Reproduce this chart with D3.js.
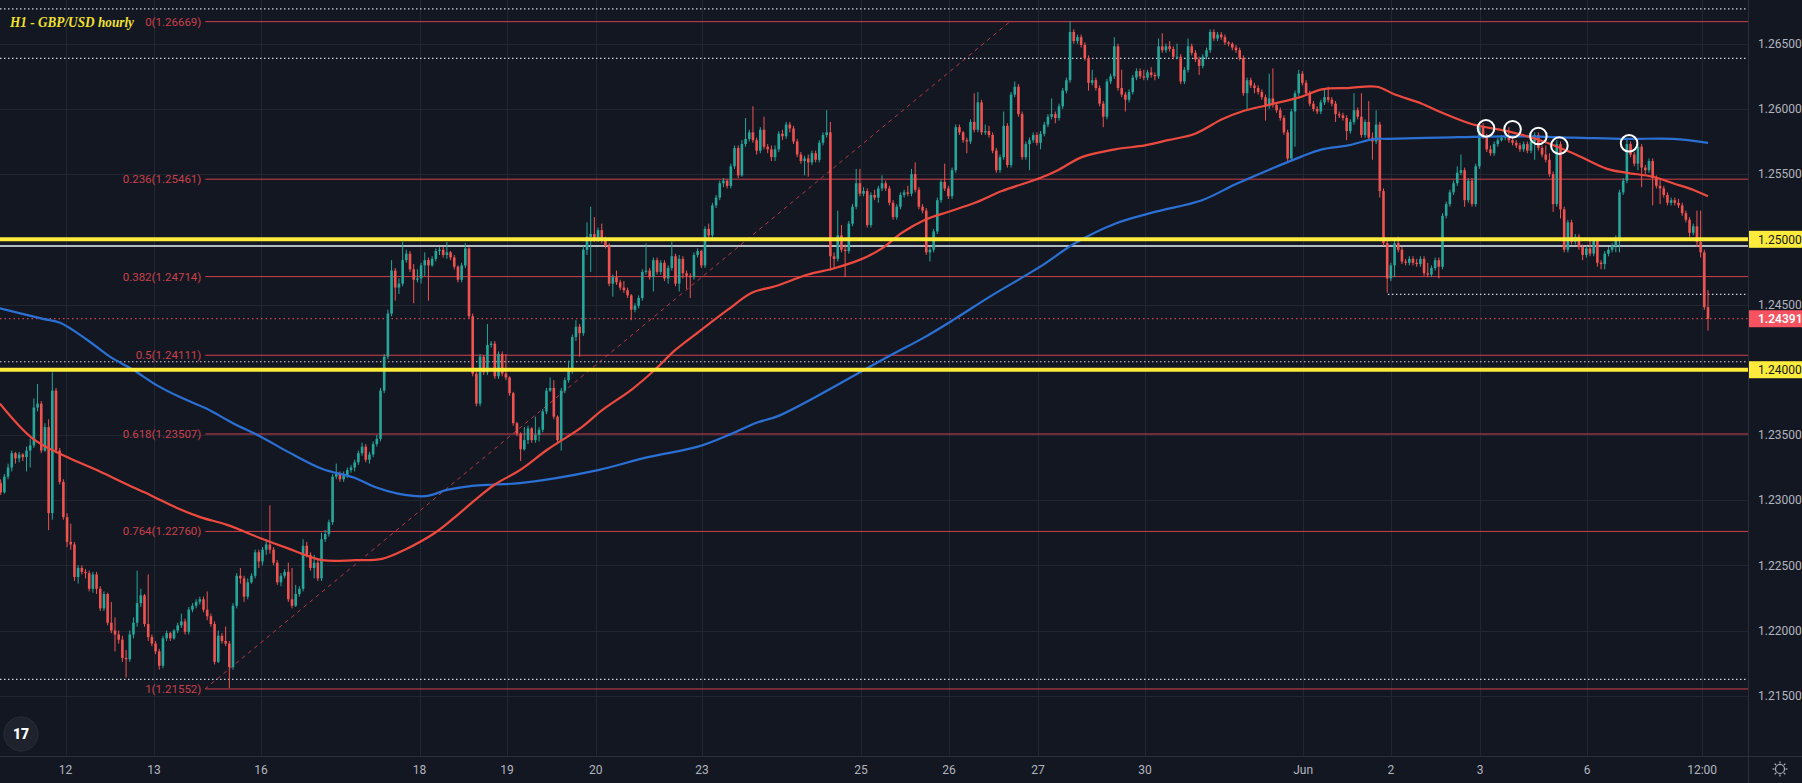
<!DOCTYPE html>
<html><head><meta charset="utf-8">
<script src="https://cdn.jsdelivr.net/npm/d3@7"></script>
<style>html,body{margin:0;padding:0;background:#131722;overflow:hidden}svg{display:block}</style>
</head><body>
<svg id="chart" width="1802" height="783"></svg>
<script>
// ---- DATA (prices stored in pips above BASE: price = BASE + v*PIP) ----
const BASE = 1.2, PIP = 0.0001;
const firstOpen = 313;
const closes = [
306,318,325,336,332,335,333,338,342,371, 374,338,356,290,384,338,314,287,268,266,
241,248,245,244,232,243,232,217,228,206, 200,197,193,179,178,197,206,221,227,205,
195,190,184,173,194,198,194,200,204,207, 199,216,219,222,224,216,211,205,176,196,
192,190,172,219,242,240,226,237,242,260, 253,262,266,262,252,237,242,245,224,219,
228,232,265,258,248,252,240,270,274,283, 318,320,316,319,323,325,329,336,341,331,
335,343,347,384,410,443,476,463,466,484, 489,477,469,470,480,484,480,485,491,492,
488,490,486,479,469,480,493,441,397,374, 410,398,419,420,395,412,397,394,382,359,
351,339,346,355,346,350,354,368,384,386, 364,346,384,392,399,425,433,428,492,502,
504,500,507,499,495,466,471,467,463,461, 457,446,449,455,475,476,471,484,475,482,
470,478,487,466,485,474,472,471,488,491, 480,508,503,526,532,543,545,541,556,570,
549,573,577,582,576,568,584,571,569,563, 569,581,579,588,585,575,565,560,562,559,
566,561,574,580,582,487,485,503,492,491, 512,525,543,535,537,511,534,532,539,543,
539,528,517,525,534,536,535,550,538,525, 522,490,492,506,530,544,539,533,553,586,
582,576,575,590,584,605,582,583,580,568, 553,563,587,557,611,617,596,563,573,576,
580,574,581,588,594,596,593,602,614,622, 659,652,655,649,639,620,622,616,604,594,
621,625,648,616,611,607,613,624,629,625, 624,628,626,625,648,645,648,646,640,640,
621,630,648,643,638,633,640,645,659,654, 657,655,651,650,647,645,639,612,622,618,
616,613,609,602,608,603,599,593,582,562, 598,612,627,620,612,604,600,598,605,609,
607,604,596,595,593,583,590,599,594,580, 590,578,575,588,537,497,470,480,497,492,
483,482,485,482,481,485,474,473,478,484, 479,518,527,536,543,551,553,530,545,527,
556,586,579,569,566,573,576,578,579,576, 574,572,569,573,568,575,580,570,565,561,
550,527,573,523,492,513,498,502,494,488, 493,489,499,482,481,489,492,495,500,536,
545,573,565,558,571,555,553,560,547,541, 539,534,528,530,528,526,520,515,505,510,
498,490,448,439];
const highs = [
316,320,328,338,337,337,336,341,347,378, 389,376,359,362,398,386,340,316,290,282,
268,250,250,247,246,245,245,234,230,229, 222,210,200,196,185,200,210,246,232,228,
243,197,192,186,196,200,199,201,206,213, 209,218,221,224,226,226,230,213,207,200,
198,203,192,221,244,248,242,240,244,262, 262,264,270,296,264,254,244,247,252,248,
235,234,270,268,260,258,254,275,277,285, 320,328,322,322,325,327,331,338,344,343,
337,345,350,386,412,446,484,478,470,498, 492,491,481,477,482,490,486,487,493,494,
494,498,491,488,480,482,497,494,443,399, 412,411,435,422,422,414,414,412,395,383,
360,352,356,357,356,364,356,370,386,394, 392,365,386,394,407,427,438,435,495,513,
525,517,509,512,502,497,473,476,469,468, 463,458,451,457,477,497,478,486,486,484,
484,480,498,489,488,487,476,474,490,493, 492,510,512,528,534,545,547,546,558,572,
572,576,593,584,602,578,586,594,573,572, 572,583,584,590,590,587,577,567,564,565,
568,568,576,582,599,590,490,522,511,496, 514,527,554,554,540,539,536,538,541,549,
545,541,530,527,536,538,541,554,559,540, 527,524,494,508,532,546,558,541,555,588,
588,583,578,592,612,613,607,588,587,582, 570,565,598,589,613,621,619,598,575,578,
582,582,583,590,596,608,598,604,616,624, 667,661,657,657,651,641,630,624,618,606,
623,627,655,650,630,613,615,626,631,631, 630,630,632,628,654,658,650,652,648,650,
642,632,654,650,645,640,642,647,661,661, 659,659,657,652,651,649,647,641,624,624,
620,618,615,611,627,631,605,601,595,584, 600,614,630,629,622,614,606,602,607,615,
617,609,606,598,597,595,592,612,601,612, 592,606,582,599,590,539,499,482,499,502,
494,485,487,487,485,487,487,482,480,486, 486,520,529,538,545,556,565,555,547,547,
558,588,589,581,572,575,578,580,581,586, 578,576,574,575,575,581,582,582,572,572,
566,552,576,575,525,515,515,504,504,496, 495,500,501,500,484,491,494,497,503,538,
547,577,575,567,573,573,557,562,562,549, 546,541,536,532,532,531,528,522,517,512,
522,522,492,461];
const lows = [
304,305,316,322,328,329,330,322,325,340, 368,336,337,277,285,336,312,285,264,262,
238,236,243,240,230,229,228,215,215,204, 198,184,190,176,164,176,194,203,218,203,
192,188,182,170,171,192,192,193,198,202, 197,197,214,217,220,214,208,203,174,175,
190,188,156,170,217,236,222,224,236,240, 248,250,258,259,250,235,234,240,222,217,
218,226,230,256,246,240,238,238,268,272, 281,316,314,314,317,321,322,327,334,329,
328,333,341,345,382,408,441,453,458,464, 482,475,451,467,466,472,453,479,483,488,
486,485,484,477,467,467,478,439,395,372, 372,396,396,417,393,393,395,392,380,357,
349,330,338,343,344,344,345,352,366,383, 362,343,338,382,390,397,422,410,426,488,
475,498,498,497,493,464,456,465,461,459, 455,438,444,447,453,473,469,460,473,473,
468,466,476,464,460,470,462,455,469,486, 478,478,500,501,524,530,540,539,539,554,
547,548,571,575,574,565,566,569,566,560, 560,567,576,577,582,573,563,558,549,548,
557,559,559,572,578,476,478,483,490,471, 489,510,523,533,533,509,509,530,528,537,
537,526,515,515,523,532,533,533,536,523, 520,488,483,490,504,528,537,531,531,551,
580,574,566,573,582,582,580,580,578,566, 551,551,561,555,555,609,594,561,561,553,
574,572,569,579,586,592,589,591,600,612, 620,650,650,647,637,614,618,614,602,586,
592,619,623,614,609,598,605,611,622,623, 622,622,624,622,623,643,643,644,638,638,
619,619,628,641,636,626,631,638,643,652, 652,653,649,648,645,643,637,610,599,616,
612,611,607,591,600,601,597,591,580,560, 560,571,610,618,610,602,598,596,596,603,
605,602,590,593,591,576,581,588,592,578, 578,576,561,573,532,495,459,468,471,490,
481,480,480,480,479,479,472,471,471,476, 470,477,516,525,534,541,549,525,528,525,
525,554,577,567,564,564,571,575,576,574, 572,570,567,567,566,566,561,568,563,559,
548,521,525,516,490,490,496,496,492,484, 486,487,487,479,477,477,487,490,490,490,
534,543,563,556,553,540,550,551,526,539, 527,532,526,526,526,524,518,513,502,503,
494,486,446,430];

// moving averages: [bar index, pips]
const maRed = [[-0.2,374],[8.8,347],[18,333],[26.9,322],[34.3,312],[40.5,304],[47.8,294],[54.1,287],[61.4,281],[70.3,271],[77.9,263],[87.1,254],[96.1,254],[103.4,255],[109.6,262],[117.8,275],[123.2,287],[128.6,300],[134,312],[140.8,323],[148.4,339],[157.6,356],[163.1,369],[171.2,385],[177.4,400],[182.9,415],[190.2,431],[197.2,446],[203.7,459],[210,464],[218.9,473],[226.3,478],[233.6,485],[239,493],[244.4,505],[250.7,515],[256.9,521],[264.2,528],[271.5,537],[281.9,547],[286.7,553],[293.2,563],[302.2,569],[310.3,572],[316.6,576],[323.9,581],[331.2,592],[336.6,598],[343.7,603],[352.4,609],[358.3,615],[365.4,616],[373.2,617],[378.1,611],[385.4,604],[390.9,597],[399.3,588],[408.5,583],[417.4,576],[426.4,566],[435.6,554],[441,551],[448.1,548],[453.5,543],[458.9,538],[463,533]];
const maBlue = [[-0.2,447],[11.5,439],[16.1,436],[23.4,423],[29.6,410],[35.9,400],[42.4,388],[48.6,379],[55.9,370],[63,359],[70.3,349],[77.9,337],[87.1,324],[96.1,317],[101.5,310],[107.7,305],[115.1,303],[121.3,308],[127.8,311],[134,312],[140.8,313],[162,323],[175.5,333],[189.1,341],[198.3,351],[204.6,359],[211.3,365],[240.6,410],[250.6,425],[258.8,439],[268.8,457],[281.9,479],[291.3,497],[302.2,512],[313,521],[325.8,530],[334.7,542],[343.7,553],[352.4,563],[358.3,569],[365.4,572],[372.7,577],[376.2,577],[390.3,578],[408.5,579],[426.4,578],[441,577],[453.5,577],[463,574]];

const dayLabels = ["12","13","16","18","19","20","23","25","26","27","30","Jun","2","3","6","12:00"];
const dayBars = [17.6,41.6,70.6,113.6,137.3,161.4,190.2,233.3,257.2,281.3,310.3,353.2,377,401.2,430.2,461.4];
const priceTicks = [1.215,1.22,1.225,1.23,1.235,1.24,1.245,1.25,1.255,1.26,1.265];
const fibRatios = ["0","0.236","0.382","0.5","0.618","0.764","1"];
const fibPrices = [1.26669,1.25461,1.24714,1.24111,1.23507,1.22760,1.21552];
const fibStartBar = 55.5;
const fibTrend = [[55.4,1.21552],[273.7,1.26669]];
const yellowLevels = [1.25,1.24];
const whiteLevels = [1.24949];
const dottedLevels = [1.26767,1.26388,1.24061,1.21626];
const dottedRay = {bar:376.2, price:1.24578};
const lastPrice = 1.24391;
const circleMarks = [[402.8,1.25851],[410,1.25844],[417,1.25792],[422.7,1.25718],[441.6,1.25736]];
const title = "H1 - GBP/USD hourly";

// ---- DRAWING ----
const W = 1802, H = 783, plotR = 1748, plotB = 756;
const FONT = "Roboto, 'Liberation Sans', Arial, sans-serif";
const svg = d3.select("#chart");
const x = d3.scaleLinear().domain([0,463]).range([0.7,1708]);
const y = d3.scaleLinear().domain([1.21038,1.26835]).range([plotB,0]);
const P = v => BASE + v*PIP;

svg.append("rect").attr("width",W).attr("height",H).attr("fill","#131722");
svg.append("defs").append("clipPath").attr("id","plot").append("rect").attr("x",0).attr("y",0).attr("width",plotR).attr("height",plotB);

// grid
const grid = svg.append("g").attr("stroke","#222632").attr("stroke-width",1);
grid.selectAll("line.h").data(priceTicks).join("line")
  .attr("x1",0).attr("x2",plotR).attr("y1",d=>Math.round(y(d))+0.5).attr("y2",d=>Math.round(y(d))+0.5);
grid.selectAll("line.v").data(dayBars).join("line")
  .attr("y1",0).attr("y2",plotB).attr("x1",d=>Math.round(x(d))+0.5).attr("x2",d=>Math.round(x(d))+0.5);

const plot = svg.append("g").attr("clip-path","url(#plot)");

// dotted white levels
plot.selectAll("line.dot").data(dottedLevels).join("line")
  .attr("x1",0).attr("x2",plotR).attr("y1",d=>y(d)).attr("y2",d=>y(d))
  .attr("stroke","#d1d4dc").attr("stroke-width",1.2).attr("stroke-dasharray","1.5,2.5");
plot.append("line").attr("x1",x(dottedRay.bar)).attr("x2",plotR)
  .attr("y1",y(dottedRay.price)).attr("y2",y(dottedRay.price))
  .attr("stroke","#d1d4dc").attr("stroke-width",1.2).attr("stroke-dasharray","1.5,2.5");
// white solid
plot.selectAll("line.wh").data(whiteLevels).join("line")
  .attr("x1",0).attr("x2",plotR).attr("y1",d=>y(d)).attr("y2",d=>y(d))
  .attr("stroke","#eceff4").attr("stroke-width",1.4);
// current price dotted
plot.append("line").attr("x1",0).attr("x2",plotR).attr("y1",y(lastPrice)).attr("y2",y(lastPrice))
  .attr("stroke","#f7525f").attr("stroke-width",1).attr("stroke-dasharray","1.5,3");

// fib
const fibColor = "#d0404c";
plot.selectAll("line.fib").data(fibPrices).join("line")
  .attr("x1",x(fibStartBar)).attr("x2",plotR).attr("y1",d=>y(d)).attr("y2",d=>y(d))
  .attr("stroke",fibColor).attr("stroke-width",1);
plot.append("line").attr("x1",x(fibTrend[0][0])).attr("y1",y(fibTrend[0][1]))
  .attr("x2",x(fibTrend[1][0])).attr("y2",y(fibTrend[1][1]))
  .attr("stroke",fibColor).attr("stroke-width",1).attr("stroke-dasharray","4,4").attr("opacity",0.85);
svg.selectAll("text.fib").data(fibPrices).join("text")
  .attr("x",x(fibStartBar)-4).attr("y",d=>y(d)).attr("dy","0.35em")
  .attr("text-anchor","end").attr("fill","#c8414c").attr("font-family",FONT).attr("font-size",11.5)
  .text((d,i)=>fibRatios[i]+"("+d.toFixed(5)+")");

// candles
const bars = closes.map((c,i)=>({i, o:P(i?closes[i-1]:firstOpen), c:P(c), h:P(highs[i]), l:P(lows[i])}));
const up = "#26a69a", dn = "#ef5350";
const cg = plot.append("g");
cg.selectAll("line").data(bars).join("line")
  .attr("x1",d=>x(d.i)).attr("x2",d=>x(d.i)).attr("y1",d=>y(d.h)).attr("y2",d=>y(d.l))
  .attr("stroke",d=>d.c>=d.o?up:dn).attr("stroke-width",1);
cg.selectAll("rect").data(bars).join("rect")
  .attr("x",d=>x(d.i)-1.3).attr("width",2.6)
  .attr("y",d=>y(Math.max(d.o,d.c))).attr("height",d=>Math.max(1,Math.abs(y(d.o)-y(d.c))))
  .attr("fill",d=>d.c>=d.o?up:dn);

// moving averages
const ma = d3.line().x(d=>x(d[0])).y(d=>y(P(d[1]))).curve(d3.curveCatmullRom);
plot.append("path").attr("d",ma(maBlue)).attr("fill","none").attr("stroke","#2b70d4").attr("stroke-width",2.2);
plot.append("path").attr("d",ma(maRed)).attr("fill","none").attr("stroke","#ec4a3f").attr("stroke-width",2.2);

// yellow key levels
plot.selectAll("line.yl").data(yellowLevels).join("line")
  .attr("x1",0).attr("x2",plotR).attr("y1",d=>y(d)).attr("y2",d=>y(d))
  .attr("stroke","#ffeb3b").attr("stroke-width",4);

// circles
plot.selectAll("circle").data(circleMarks).join("circle")
  .attr("cx",d=>x(d[0])).attr("cy",d=>y(d[1])).attr("r",8.3)
  .attr("fill","none").attr("stroke","#ffffff").attr("stroke-width",2);

// axes frame
svg.append("line").attr("x1",plotR+0.5).attr("x2",plotR+0.5).attr("y1",0).attr("y2",H).attr("stroke","#2a2e39");
svg.append("line").attr("x1",0).attr("x2",W).attr("y1",plotB+0.5).attr("y2",plotB+0.5).attr("stroke","#2a2e39");

// price axis labels
svg.selectAll("text.pt").data(priceTicks).join("text")
  .attr("x",1758).attr("y",d=>y(d)).attr("dy","0.35em")
  .attr("fill","#b2b5be").attr("font-family",FONT).attr("font-size",12)
  .text(d=>d.toFixed(5));
const yb = svg.selectAll("g.yb").data(yellowLevels).join("g");
yb.append("rect").attr("x",plotR+1).attr("y",d=>y(d)-8.5).attr("width",W-plotR-1).attr("height",17).attr("fill","#ffeb3b");
yb.append("text").attr("x",1758).attr("y",d=>y(d)).attr("dy","0.35em")
  .attr("fill","#131722").attr("font-family",FONT).attr("font-size",12).text(d=>d.toFixed(5));
svg.append("rect").attr("x",plotR+1).attr("y",y(lastPrice)-8.5).attr("width",W-plotR-1).attr("height",17).attr("fill","#f7525f");
svg.append("text").attr("x",1758).attr("y",y(lastPrice)).attr("dy","0.35em")
  .attr("fill","#ffffff").attr("font-family",FONT).attr("font-size",12).attr("font-weight",600).text(lastPrice.toFixed(5));

// time axis labels
svg.selectAll("text.dt").data(dayLabels).join("text")
  .attr("x",(d,i)=>x(dayBars[i])).attr("y",770).attr("dy","0.35em").attr("text-anchor","middle")
  .attr("fill","#b2b5be").attr("font-family",FONT).attr("font-size",12).text(d=>d);

// gear icon
const gear = svg.append("g").attr("transform","translate(1780,769)").attr("stroke","#b2b5be").attr("fill","none").attr("stroke-width",1.2);
gear.append("circle").attr("r",4.5);
d3.range(8).forEach(k=>{const a=k*Math.PI/4; gear.append("line").attr("x1",Math.cos(a)*5.5).attr("y1",Math.sin(a)*5.5).attr("x2",Math.cos(a)*7.5).attr("y2",Math.sin(a)*7.5);});

// TradingView logo
const logo = svg.append("g").attr("transform","translate(21,734)");
logo.append("circle").attr("r",17).attr("fill","#1e222d").attr("stroke","#2a2e39");
logo.append("text").attr("text-anchor","middle").attr("dy","0.35em").attr("fill","#ffffff")
  .attr("font-family",FONT).attr("font-weight",900).attr("font-size",14).text("17");

// title
svg.append("text").attr("x",10).attr("y",27).attr("fill","#f0e130")
  .attr("font-family","'Liberation Serif','DejaVu Serif',serif").attr("font-style","italic").attr("font-weight","bold")
  .attr("font-size",14).attr("textLength",124).attr("lengthAdjust","spacingAndGlyphs").text(title);
</script>
</body></html>
